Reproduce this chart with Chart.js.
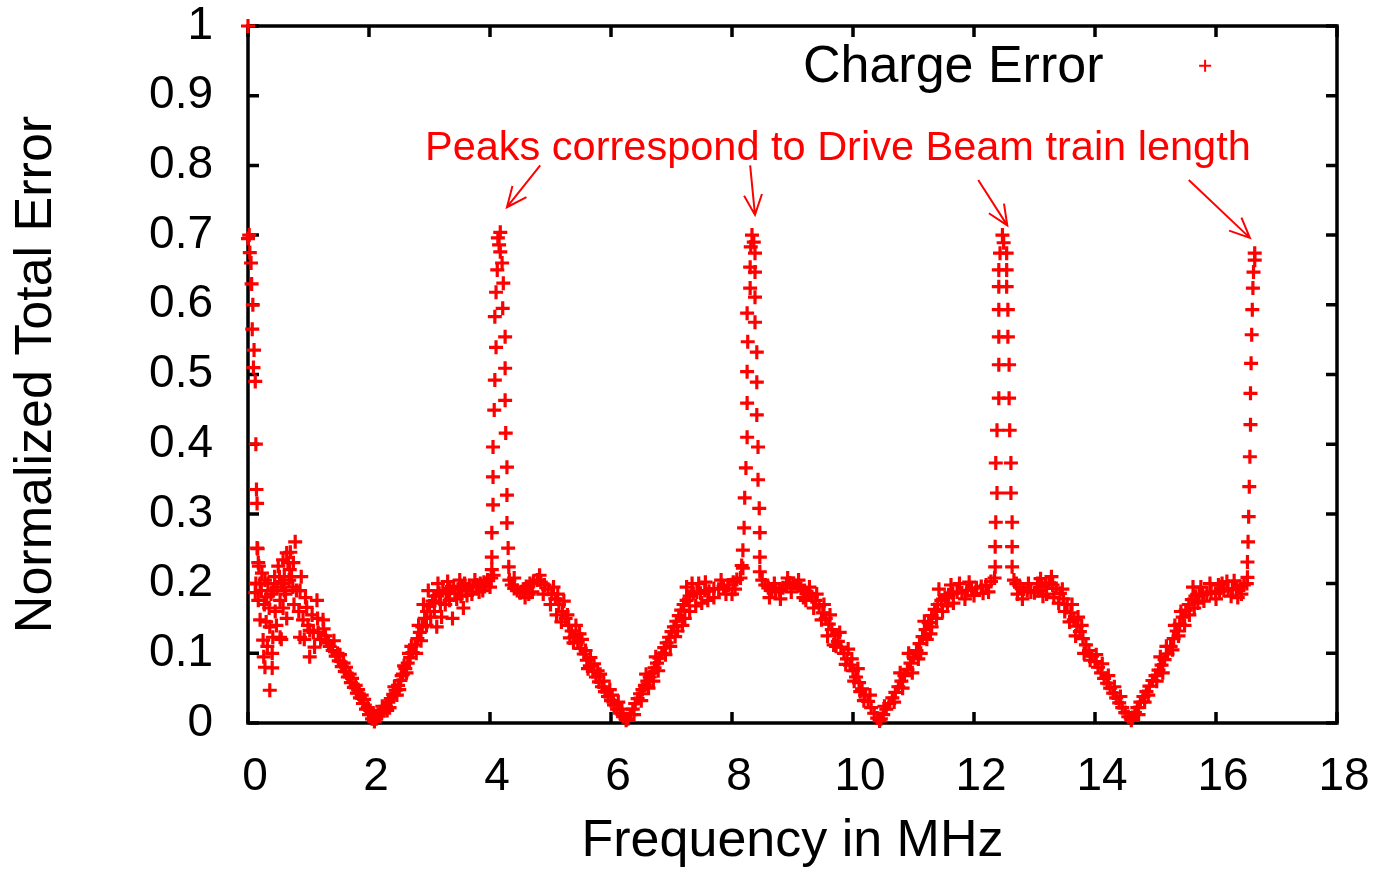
<!DOCTYPE html>
<html>
<head>
<meta charset="utf-8">
<script src="https://cdn.jsdelivr.net/npm/chart.js@4.4.1/dist/chart.umd.min.js"></script>
<style>
  html, body { margin: 0; padding: 0; background: #fff; }
  #wrap { width: 1374px; height: 869px; }
</style>
</head>
<body>
<div id="wrap"><canvas id="errChart" width="1374" height="869"></canvas></div>
<script>
// tick labels
const xTicks = [0, 2, 4, 6, 8, 10, 12, 14, 16, 18]
const yTicks = [0, 0.1, 0.2, 0.3, 0.4, 0.5, 0.6, 0.7, 0.8, 0.9, 1]

// [MHz, normalized error]
const lowFreqPoints = [
  [0.00, 1.00], [0.00, 0.695], [0.02, 0.70], [0.03, 0.675], [0.05, 0.66], [0.06, 0.63], [0.08, 0.60],
  [0.07, 0.565], [0.10, 0.535], [0.09, 0.51], [0.12, 0.49], [0.13, 0.40], [0.14, 0.335], [0.15, 0.315],
  [0.16, 0.25], [0.18, 0.225], [0.13, 0.20], [0.15, 0.251], [0.17, 0.23], [0.23, 0.215], [0.12, 0.187],
  [0.17, 0.176], [0.20, 0.148], [0.31, 0.181], [0.36, 0.138], [0.25, 0.119], [0.41, 0.123], [0.53, 0.123],
  [0.28, 0.080], [0.40, 0.079], [0.36, 0.047], [0.48, 0.195], [0.58, 0.234], [0.64, 0.244], [0.78, 0.26],
  [0.69, 0.22], [0.74, 0.195], [0.53, 0.176], [0.86, 0.19], [0.97, 0.166], [0.91, 0.148], [1.02, 0.133],
  [1.14, 0.176], [0.86, 0.123], [1.02, 0.095], [1.10, 0.109], [1.24, 0.148], [0.22, 0.19], [0.27, 0.17],
  [0.33, 0.20], [0.38, 0.185], [0.44, 0.21], [0.50, 0.225], [0.55, 0.20], [0.60, 0.21], [0.62, 0.185],
  [0.66, 0.23], [0.70, 0.245], [0.72, 0.21], [0.80, 0.19], [0.45, 0.16], [0.30, 0.145], [0.32, 0.11],
  [0.47, 0.14], [0.58, 0.165], [0.64, 0.15], [0.26, 0.095], [0.55, 0.12], [0.40, 0.10], [0.84, 0.16],
  [0.95, 0.18], [0.88, 0.21], [0.76, 0.17], [0.93, 0.12], [0.99, 0.14], [1.06, 0.155], [1.16, 0.13],
  [1.20, 0.12], [1.28, 0.125], [1.33, 0.115], [1.08, 0.13], [1.15, 0.15], [1.25, 0.135], [0.60, 0.19],
  [0.68, 0.205], [0.52, 0.21], [0.42, 0.19], [0.35, 0.165], [0.20, 0.20], [0.28, 0.205], [0.75, 0.23]
]

const valleyPoints = [
  // 1.3 - 2.1 falling
  [1.30, 0.118], [1.35, 0.110], [1.40, 0.104], [1.45, 0.096], [1.50, 0.089], [1.55, 0.081], [1.60, 0.074],
  [1.65, 0.066], [1.70, 0.058], [1.75, 0.051], [1.80, 0.043], [1.85, 0.036], [1.90, 0.028], [1.95, 0.020],
  [2.00, 0.012], [2.05, 0.006], [2.09, 0.002], [1.42, 0.118], [1.48, 0.100], [1.58, 0.086], [1.68, 0.070],
  [1.78, 0.054], [1.88, 0.040], [1.98, 0.022], [1.52, 0.098], [1.62, 0.080], [1.72, 0.064], [1.82, 0.048],
  [1.92, 0.034], [2.02, 0.018], [2.07, 0.012],
  // 2.1 - 4.1 rising
  [2.12, 0.006], [2.16, 0.010], [2.20, 0.014], [2.24, 0.020], [2.28, 0.024], [2.32, 0.030], [2.36, 0.035],
  [2.40, 0.041], [2.44, 0.047], [2.48, 0.054], [2.52, 0.061], [2.56, 0.070], [2.60, 0.078], [2.64, 0.086],
  [2.68, 0.094], [2.72, 0.101], [2.76, 0.112], [2.80, 0.121], [2.84, 0.130], [2.88, 0.138], [2.92, 0.150],
  [2.96, 0.160], [3.00, 0.168], [3.05, 0.175], [3.10, 0.182], [3.16, 0.186], [3.22, 0.190], [3.28, 0.188],
  [3.34, 0.193], [3.40, 0.196], [3.47, 0.192], [3.54, 0.195], [3.60, 0.190], [3.66, 0.197], [3.72, 0.195],
  [3.78, 0.198], [3.84, 0.200], [3.90, 0.202], [3.96, 0.205], [4.02, 0.208], [4.06, 0.212],
  [2.30, 0.018], [2.50, 0.048], [2.62, 0.072], [2.78, 0.100], [2.86, 0.118], [2.95, 0.140], [3.02, 0.152],
  [3.08, 0.160], [3.12, 0.138], [3.20, 0.152], [3.26, 0.170], [3.33, 0.176], [3.45, 0.178], [3.52, 0.182],
  [3.62, 0.183], [2.98, 0.190], [3.14, 0.200], [3.30, 0.203], [3.50, 0.205], [3.70, 0.185], [3.88, 0.190],
  [4.00, 0.195], [2.90, 0.170], [3.38, 0.150], [3.56, 0.165], [2.22, 0.024], [2.42, 0.052], [2.58, 0.082],
  [2.70, 0.110], [2.82, 0.140], [3.75, 0.205], [3.93, 0.198], [3.42, 0.186], [2.34, 0.022], [2.46, 0.040],
  [2.54, 0.068], [2.66, 0.100], [3.18, 0.172], [3.58, 0.200], [3.82, 0.188],
  // 4.3 - 6.25 falling
  [4.32, 0.205], [4.36, 0.198], [4.40, 0.193], [4.45, 0.190], [4.50, 0.187], [4.55, 0.192], [4.60, 0.196],
  [4.66, 0.200], [4.72, 0.203], [4.78, 0.205], [4.84, 0.202], [4.90, 0.198], [4.96, 0.192], [5.02, 0.185],
  [5.08, 0.178], [5.14, 0.170], [5.20, 0.160], [5.25, 0.150], [5.30, 0.140], [5.35, 0.132], [5.40, 0.124],
  [5.45, 0.116], [5.50, 0.107], [5.55, 0.099], [5.60, 0.090], [5.65, 0.082], [5.70, 0.074], [5.75, 0.066],
  [5.80, 0.059], [5.85, 0.052], [5.90, 0.045], [5.95, 0.038], [6.00, 0.032], [6.05, 0.026], [6.10, 0.020],
  [6.15, 0.014], [6.20, 0.009], [6.25, 0.004],
  [4.40, 0.208], [4.58, 0.180], [4.70, 0.188], [4.88, 0.185], [5.00, 0.170], [5.10, 0.155], [5.18, 0.145],
  [5.28, 0.155], [5.38, 0.115], [5.48, 0.128], [5.58, 0.104], [5.72, 0.085], [5.88, 0.060], [6.02, 0.040],
  [6.18, 0.020], [5.05, 0.195], [5.22, 0.175], [5.42, 0.140], [5.52, 0.120], [5.66, 0.094], [5.78, 0.075],
  [5.98, 0.048], [6.12, 0.030], [4.64, 0.185], [4.82, 0.212], [5.12, 0.185], [5.32, 0.122], [5.62, 0.078],
  [5.82, 0.070],
  // 6.25 - 8.2 rising
  [6.28, 0.006], [6.32, 0.012], [6.36, 0.020], [6.40, 0.028], [6.44, 0.035], [6.48, 0.042], [6.52, 0.048],
  [6.56, 0.054], [6.60, 0.060], [6.64, 0.066], [6.68, 0.072], [6.72, 0.079], [6.76, 0.086], [6.80, 0.093],
  [6.84, 0.100], [6.88, 0.108], [6.92, 0.115], [6.96, 0.123], [7.00, 0.131], [7.04, 0.138], [7.08, 0.146],
  [7.12, 0.154], [7.16, 0.162], [7.20, 0.170], [7.25, 0.176], [7.30, 0.182], [7.36, 0.186], [7.42, 0.188],
  [7.48, 0.186], [7.55, 0.190], [7.62, 0.189], [7.70, 0.193], [7.78, 0.192], [7.86, 0.196], [7.94, 0.198],
  [8.02, 0.202], [8.08, 0.206], [8.14, 0.208],
  [7.10, 0.132], [7.22, 0.150], [7.30, 0.160], [7.40, 0.168], [7.50, 0.172], [7.60, 0.176], [7.25, 0.195],
  [7.45, 0.200], [7.70, 0.180], [7.90, 0.185], [8.05, 0.192], [6.98, 0.110], [6.70, 0.060], [8.16, 0.226],
  [6.38, 0.012], [6.50, 0.032], [6.62, 0.050], [6.78, 0.075], [6.90, 0.098], [7.06, 0.124], [7.18, 0.140],
  [6.58, 0.070], [6.74, 0.095], [7.34, 0.200], [7.56, 0.202], [7.82, 0.205], [8.00, 0.185],
  // 8.5 - 10.42 falling
  [8.50, 0.205], [8.55, 0.198], [8.60, 0.194], [8.66, 0.190], [8.72, 0.188], [8.78, 0.190], [8.84, 0.194],
  [8.90, 0.198], [8.96, 0.201], [9.02, 0.200], [9.08, 0.197], [9.14, 0.193], [9.20, 0.190], [9.26, 0.186],
  [9.32, 0.181], [9.38, 0.176], [9.44, 0.168], [9.50, 0.158], [9.55, 0.150], [9.60, 0.142], [9.65, 0.134],
  [9.70, 0.126], [9.75, 0.117], [9.80, 0.109], [9.85, 0.100], [9.90, 0.092], [9.95, 0.083], [10.00, 0.075],
  [10.05, 0.066], [10.10, 0.058], [10.15, 0.049], [10.20, 0.040], [10.25, 0.031], [10.30, 0.022],
  [10.35, 0.014], [10.40, 0.007], [10.44, 0.003],
  [8.62, 0.180], [8.80, 0.178], [8.98, 0.188], [9.10, 0.205], [9.22, 0.176], [9.35, 0.165], [9.48, 0.148],
  [9.58, 0.125], [9.72, 0.110], [9.88, 0.084], [10.02, 0.060], [10.18, 0.032], [9.40, 0.185],
  [9.28, 0.195], [9.52, 0.170], [9.62, 0.155], [9.78, 0.130], [9.92, 0.106], [10.08, 0.078], [10.28, 0.040],
  [8.70, 0.200], [8.92, 0.208], [9.18, 0.180], [9.68, 0.112], [9.98, 0.092], [10.12, 0.045],
  // 10.42 - 12.35 rising
  [10.46, 0.006], [10.50, 0.012], [10.55, 0.020], [10.60, 0.028], [10.65, 0.036], [10.70, 0.044],
  [10.75, 0.052], [10.80, 0.060], [10.85, 0.068], [10.90, 0.077], [10.95, 0.086], [11.00, 0.095],
  [11.05, 0.104], [11.10, 0.114], [11.15, 0.124], [11.20, 0.134], [11.25, 0.144], [11.30, 0.154],
  [11.35, 0.163], [11.40, 0.170], [11.46, 0.176], [11.52, 0.180], [11.58, 0.184], [11.65, 0.186],
  [11.72, 0.188], [11.80, 0.187], [11.88, 0.190], [11.96, 0.192], [12.04, 0.194], [12.12, 0.196],
  [12.20, 0.198], [12.28, 0.203], [12.34, 0.208],
  [11.08, 0.092], [11.22, 0.120], [11.30, 0.138], [11.38, 0.150], [11.48, 0.160], [11.56, 0.168],
  [11.66, 0.172], [11.42, 0.192], [11.62, 0.198], [11.85, 0.178], [12.00, 0.183], [12.15, 0.186], [10.92, 0.100],
  [10.52, 0.024], [10.68, 0.030], [10.82, 0.050], [10.98, 0.072], [11.12, 0.100], [11.28, 0.128],
  [10.78, 0.072], [11.18, 0.146], [11.76, 0.200], [11.92, 0.202], [12.24, 0.188],
  // 12.65 - 14.58 falling
  [12.66, 0.205], [12.70, 0.200], [12.76, 0.195], [12.82, 0.192], [12.88, 0.190], [12.94, 0.188],
  [13.00, 0.187], [13.06, 0.190], [13.12, 0.195], [13.18, 0.199], [13.24, 0.201], [13.30, 0.198],
  [13.36, 0.193], [13.42, 0.186], [13.48, 0.178], [13.54, 0.170], [13.60, 0.158], [13.65, 0.148],
  [13.70, 0.139], [13.75, 0.131], [13.80, 0.121], [13.85, 0.112], [13.90, 0.104], [13.95, 0.096],
  [14.00, 0.088], [14.05, 0.080], [14.10, 0.072], [14.15, 0.064], [14.20, 0.057], [14.25, 0.050],
  [14.30, 0.043], [14.35, 0.036], [14.40, 0.029], [14.45, 0.022], [14.50, 0.015], [14.55, 0.009], [14.60, 0.004],
  [12.80, 0.178], [13.05, 0.200], [13.20, 0.185], [13.40, 0.172], [13.50, 0.160], [13.58, 0.145],
  [13.68, 0.125], [13.78, 0.140], [13.92, 0.090], [14.12, 0.085], [14.32, 0.052], [13.32, 0.180],
  [12.90, 0.200], [13.14, 0.182], [13.46, 0.192], [13.62, 0.170], [13.82, 0.100], [14.02, 0.098], [14.22, 0.068],
  [12.72, 0.185], [13.10, 0.207], [13.28, 0.210], [13.72, 0.152], [14.42, 0.038],
  // 14.6 - 16.5 rising
  [14.62, 0.008], [14.66, 0.015], [14.70, 0.022], [14.75, 0.030], [14.80, 0.038], [14.85, 0.045],
  [14.90, 0.053], [14.95, 0.061], [15.00, 0.068], [15.05, 0.076], [15.10, 0.083], [15.15, 0.091],
  [15.20, 0.099], [15.25, 0.110], [15.30, 0.121], [15.35, 0.132], [15.40, 0.142], [15.45, 0.152],
  [15.50, 0.162], [15.55, 0.170], [15.60, 0.177], [15.66, 0.182], [15.72, 0.185], [15.78, 0.184],
  [15.85, 0.186], [15.92, 0.188], [15.99, 0.186], [16.06, 0.189], [16.13, 0.190], [16.20, 0.192],
  [16.27, 0.191], [16.34, 0.193], [16.40, 0.196], [16.46, 0.198], [16.51, 0.200],
  [15.28, 0.105], [15.38, 0.125], [15.48, 0.140], [15.56, 0.155], [15.64, 0.165], [15.70, 0.172],
  [15.62, 0.195], [15.80, 0.175], [15.90, 0.200], [16.00, 0.178], [16.10, 0.200], [16.25, 0.182],
  [16.42, 0.185], [15.18, 0.110], [14.72, 0.012], [14.88, 0.040], [15.02, 0.060], [15.08, 0.095],
  [15.42, 0.160], [15.75, 0.195], [16.18, 0.203], [16.36, 0.180], [14.82, 0.030], [15.12, 0.072],
  [15.32, 0.140], [16.04, 0.198], [16.30, 0.204]
]

const peakPoints = [
  // ~4.17 MHz
  [4.17, 0.704], [4.13, 0.696], [4.15, 0.686], [4.17, 0.676], [4.20, 0.660], [4.12, 0.650], [4.22, 0.631],
  [4.10, 0.618], [4.08, 0.583], [4.10, 0.539], [4.08, 0.492], [4.07, 0.449], [4.05, 0.396], [4.05, 0.353],
  [4.05, 0.313], [4.03, 0.273], [4.03, 0.238], [4.03, 0.220], [4.21, 0.595], [4.25, 0.554], [4.25, 0.509],
  [4.25, 0.463], [4.26, 0.416], [4.28, 0.367], [4.28, 0.327], [4.28, 0.287], [4.30, 0.251], [4.31, 0.224],
  // ~8.33 MHz
  [8.33, 0.700], [8.36, 0.690], [8.31, 0.683], [8.38, 0.674], [8.30, 0.654], [8.38, 0.647], [8.30, 0.624],
  [8.38, 0.611], [8.25, 0.588], [8.26, 0.547], [8.25, 0.504], [8.25, 0.459], [8.25, 0.410], [8.23, 0.366],
  [8.21, 0.323], [8.20, 0.280], [8.18, 0.248], [8.18, 0.222], [8.38, 0.575], [8.41, 0.532], [8.41, 0.489],
  [8.41, 0.442], [8.43, 0.396], [8.43, 0.349], [8.45, 0.308], [8.46, 0.273], [8.46, 0.238], [8.46, 0.217],
  // ~12.5 MHz
  [12.47, 0.700], [12.49, 0.689], [12.43, 0.674], [12.41, 0.650], [12.41, 0.626], [12.41, 0.593],
  [12.41, 0.554], [12.41, 0.514], [12.41, 0.466], [12.38, 0.420], [12.36, 0.373], [12.38, 0.330],
  [12.36, 0.288], [12.35, 0.253], [12.35, 0.224], [12.54, 0.674], [12.54, 0.650], [12.54, 0.626],
  [12.56, 0.593], [12.56, 0.554], [12.58, 0.514], [12.58, 0.466], [12.59, 0.420], [12.61, 0.373],
  [12.61, 0.330], [12.63, 0.288], [12.63, 0.253], [12.63, 0.224],
  // ~16.6 MHz
  [16.64, 0.674], [16.64, 0.664], [16.62, 0.647], [16.61, 0.624], [16.60, 0.593], [16.59, 0.557],
  [16.58, 0.516], [16.57, 0.473], [16.57, 0.428], [16.56, 0.382], [16.55, 0.339], [16.54, 0.296],
  [16.53, 0.260], [16.52, 0.231], [16.52, 0.209]
]

const seriesLabel = "Charge Error"
const noteText = "Peaks correspond to Drive Beam train length"
// arrow tails / heads in data coordinates
const arrowFrom = [[4.83, 0.800], [8.30, 0.800], [12.07, 0.779], [15.55, 0.779]]
const arrowTo = [[4.28, 0.740], [8.38, 0.729], [12.55, 0.714], [16.56, 0.696]]

const RED = "#ff0000"
const FONT = "'Liberation Sans', Arial, Helvetica, sans-serif"
Chart.defaults.font.family = FONT
Chart.defaults.color = "#000"

const allPoints = lowFreqPoints.concat(valleyPoints, peakPoints).map(([x, y]) => ({ x, y }))

// no extra room for overhanging tick labels: the frame fills the page like gnuplot's
const noPad = (s) => { s.paddingTop = 0; s.paddingBottom = 0; s.paddingLeft = 0; s.paddingRight = 0 }

// gnuplot-like frame with inward ticks on all four sides
const framePlugin = {
  id: "frame",
  beforeDatasetsDraw(chart) {
    const { ctx, chartArea: a, scales } = chart
    const tk = 11
    ctx.save()
    ctx.strokeStyle = "#000"
    ctx.lineWidth = 3.5
    ctx.beginPath()
    xTicks.forEach((v) => {
      const px = scales.x.getPixelForValue(v)
      ctx.moveTo(px, a.bottom); ctx.lineTo(px, a.bottom - tk)
      ctx.moveTo(px, a.top); ctx.lineTo(px, a.top + tk)
    })
    yTicks.forEach((v) => {
      const py = scales.y.getPixelForValue(v)
      ctx.moveTo(a.left, py); ctx.lineTo(a.left + tk, py)
      ctx.moveTo(a.right, py); ctx.lineTo(a.right - tk, py)
    })
    ctx.stroke()
    ctx.strokeRect(a.left, a.top, a.right - a.left, a.bottom - a.top)
    ctx.restore()
  },
}

const notesPlugin = {
  id: "notes",
  afterDatasetsDraw(chart) {
    const { ctx, scales } = chart
    const sx = (v) => scales.x.getPixelForValue(v)
    const sy = (v) => scales.y.getPixelForValue(v)
    ctx.save()

    // legend (key inside the frame, top right)
    ctx.font = "52px " + FONT
    ctx.fillStyle = "#000"
    ctx.textAlign = "right"
    ctx.textBaseline = "alphabetic"
    ctx.fillText(chart.data.datasets[0].label, sx(14.14), sy(0.919))
    ctx.strokeStyle = RED
    ctx.lineWidth = 2
    Chart.helpers.drawPoint(ctx, { pointStyle: "cross", radius: 6, rotation: 0, borderWidth: 2 }, sx(15.82), sy(0.943))

    // annotation
    ctx.font = "41.5px " + FONT
    ctx.fillStyle = RED
    ctx.textAlign = "center"
    ctx.fillText(noteText, sx(9.75), sy(0.808))

    ctx.lineWidth = 2
    ctx.beginPath()
    arrowFrom.forEach((f, i) => {
      const x1 = sx(f[0]), y1 = sy(f[1])
      const x2 = sx(arrowTo[i][0]), y2 = sy(arrowTo[i][1])
      const ang = Math.atan2(y2 - y1, x2 - x1)
      const hl = 22, ha = 0.42
      ctx.moveTo(x1, y1); ctx.lineTo(x2, y2)
      ctx.moveTo(x2 - hl * Math.cos(ang - ha), y2 - hl * Math.sin(ang - ha))
      ctx.lineTo(x2, y2)
      ctx.lineTo(x2 - hl * Math.cos(ang + ha), y2 - hl * Math.sin(ang + ha))
    })
    ctx.stroke()
    ctx.restore()
  },
}

new Chart(document.getElementById("errChart"), {
  type: "scatter",
  data: {
    datasets: [
      {
        label: seriesLabel,
        data: allPoints,
        pointStyle: "cross",
        pointRadius: 7,
        pointBorderWidth: 3.2,
        borderColor: RED,
        backgroundColor: RED,
        clip: false,
      },
    ],
  },
  options: {
    responsive: false,
    animation: false,
    events: [],
    layout: { padding: { top: 26, right: 37, left: 0, bottom: 0 } },
    plugins: { legend: { display: false }, tooltip: { enabled: false } },
    scales: {
      x: {
        type: "linear",
        min: 0,
        max: 18,
        afterBuildTicks: (s) => { s.ticks = xTicks.map((v) => ({ value: v })) },
        afterFit: (s) => { s.height = 146; noPad(s) },
        ticks: { font: { size: 46, lineHeight: 1 }, color: "#000", padding: 31, labelOffset: 7, maxRotation: 0 },
        grid: { display: false, drawTicks: false },
        border: { display: false },
        title: { display: true, text: "Frequency in MHz", color: "#000", font: { size: 52, lineHeight: 1 }, padding: { top: 0, bottom: 1 } },
      },
      y: {
        type: "linear",
        min: 0,
        max: 1,
        afterBuildTicks: (s) => { s.ticks = yTicks.map((v) => ({ value: v })) },
        afterFit: (s) => { s.width = 248; noPad(s) },
        ticks: { font: { size: 46, lineHeight: 1 }, color: "#000", padding: 35, callback: (v) => String(v) },
        grid: { display: false, drawTicks: false },
        border: { display: false },
        title: { display: true, text: "Normalized Total Error", color: "#000", font: { size: 52, lineHeight: 1 }, padding: { top: 11, bottom: 0 } },
      },
    },
  },
  plugins: [framePlugin, notesPlugin],
})
</script>
</body>
</html>
